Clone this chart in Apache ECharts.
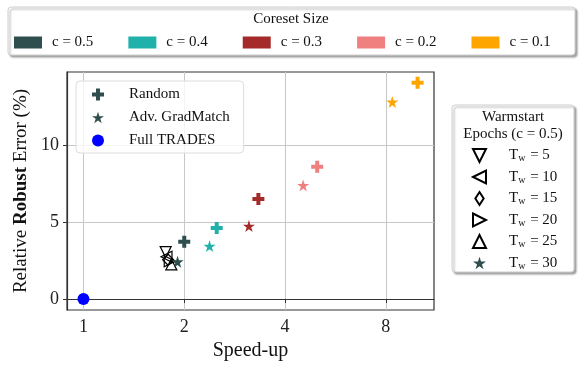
<!DOCTYPE html>
<html><head><meta charset="utf-8">
<script src="https://cdn.jsdelivr.net/npm/echarts@6/dist/echarts.min.js"></script>
<style>html,body{margin:0;padding:0;background:#fff}#c{width:582px;height:370px}</style>
</head><body><div id="c"></div><script>
// ---- data ----
const coresetLabels = ['c = 0.5', 'c = 0.4', 'c = 0.3', 'c = 0.2', 'c = 0.1'];
const coresetColors = ['#2F4F4F', '#20B2AA', '#A52A2A', '#F08080', '#FFA500'];
const randomSpeedup = [2.0, 2.50, 3.33, 4.99, 9.95];
const randomError   = [3.72, 4.61, 6.49, 8.59, 14.05];
const gradSpeedup   = [1.91, 2.38, 3.12, 4.53, 8.36];
const gradError     = [2.42, 3.44, 4.74, 7.38, 12.79];
const fullTradesSpeedup = [1];
const fullTradesError   = [0];
const warmEpochs  = ['5', '10', '15', '20', '25'];
const warmSpeedup = [1.76, 1.77, 1.79, 1.81, 1.83];
const warmError   = [3.05, 2.75, 2.55, 2.45, 2.25];
const xTicks = [1, 2, 4, 8];
const yTicks = [0, 5, 10];

// ---- styles ----
const FONT = 'Liberation Serif';
const CROSS = 'path://M4,0H8V4H12V8H8V12H4V8H0V4H4Z';
const STAR = 'path://M100,0L122.45,69.1L195.1,69.1L136.3,111.8L158.8,180.9L100,138.2L41.2,180.9L63.7,111.8L4.9,69.1L77.55,69.1Z';
const warmSymbols = [
  'path://M0,0L10,0L5,10Z',
  'path://M0,5L10,0L10,10Z',
  'path://M3.2,0L6.4,5L3.2,10L0,5Z',
  'path://M0,0L10,5L0,10Z',
  'path://M5,0L10,10L0,10Z'
];

const series = [];
coresetLabels.forEach((name, i) => {
  series.push({
    type: 'scatter', name, color: coresetColors[i], z: 3,
    symbolSize: 12, itemStyle: { opacity: 1 },
    data: [
      { value: [randomSpeedup[i], randomError[i]], symbol: CROSS, symbolSize: 12 },
      { value: [gradSpeedup[i], gradError[i]], symbol: STAR, symbolSize: 12 }
    ]
  });
});
series.push({ type: 'scatter', name: 'Random', color: '#2F4F4F', symbol: CROSS, itemStyle: { opacity: 1 }, data: [] });
series.push({ type: 'scatter', name: 'Adv. GradMatch', color: '#2F4F4F', symbol: STAR, itemStyle: { opacity: 1 }, data: [] });
series.push({ type: 'scatter', name: 'Full TRADES', color: '#0000FF', symbol: 'circle', symbolSize: 12, itemStyle: { opacity: 1 },
  data: fullTradesSpeedup.map((x, i) => [x, fullTradesError[i]]) });
warmEpochs.forEach((e, i) => {
  series.push({
    type: 'scatter', name: 'Tw' + e, symbol: warmSymbols[i], symbolSize: 11, z: 2,
    itemStyle: { color: 'rgba(255,255,255,0)', borderColor: '#000', borderWidth: 1.2, opacity: 1 },
    data: [[warmSpeedup[i], warmError[i]]]
  });
});
series.push({ type: 'scatter', name: 'Tw30', color: '#2F4F4F', symbol: STAR, itemStyle: { opacity: 1 }, data: [] });

const txt = { fontFamily: FONT, fontSize: 15, color: '#111' };

const option = {
  animation: false,
  textStyle: { fontFamily: FONT },
  grid: { left: 67, top: 72, right: 148, bottom: 60, show: true, borderColor: '#333', borderWidth: 1.2 },
  xAxis: {
    type: 'log', logBase: 2, min: 0.893, max: 11.14,
    name: 'Speed-up', nameLocation: 'middle', nameGap: 30,
    nameTextStyle: { fontFamily: FONT, fontSize: 20, color: '#111' },
    axisLine: { lineStyle: { color: '#333', width: 1.2 } },
    axisTick: { show: true, length: 4, lineStyle: { color: '#333' }, customValues: xTicks },
    axisLabel: { fontFamily: FONT, fontSize: 18, color: '#222', margin: 8, customValues: xTicks, formatter: v => String(Math.round(v)) },
    splitLine: { show: true, lineStyle: { color: '#c8c8c8', width: 1 } },
    minorTick: { show: false }
  },
  yAxis: {
    type: 'value', min: -0.71, max: 14.74,
    name: 'Relative {b|Robust} Error (%)', nameLocation: 'middle', nameGap: 36,
    nameTextStyle: { fontFamily: FONT, fontSize: 19, color: '#111',
      rich: { b: { fontFamily: FONT, fontSize: 19, fontWeight: 'bold', color: '#111' } } },
    axisLine: { show: true, lineStyle: { color: '#333', width: 1.2 } },
    axisTick: { show: true, length: 4, lineStyle: { color: '#333' }, customValues: yTicks },
    axisLabel: { fontFamily: FONT, fontSize: 18, color: '#222', margin: 8, customValues: yTicks },
    splitLine: { show: true, lineStyle: { color: '#c8c8c8', width: 1 } }
  },
  graphic: [
    { type: 'rect', z: -10, shape: { x: 8, y: 7, width: 567, height: 48, r: 3 },
      style: { fill: '#fff', stroke: '#cfcfcf', lineWidth: 1, shadowColor: 'rgba(0,0,0,0.35)', shadowBlur: 2, shadowOffsetX: 2, shadowOffsetY: 2 } },
    { type: 'text', z: 5, x: 291, y: 19, style: { text: 'Coreset Size', fontFamily: FONT, fontSize: 15, fill: '#111', align: 'center', verticalAlign: 'middle' } },
    { type: 'rect', z: -10, shape: { x: 452, y: 105, width: 122, height: 167, r: 3 },
      style: { fill: '#fff', stroke: '#cfcfcf', lineWidth: 1, shadowColor: 'rgba(0,0,0,0.35)', shadowBlur: 2, shadowOffsetX: 2, shadowOffsetY: 2 } },
    { type: 'text', z: 5, x: 513, y: 117, style: { text: 'Warmstart', fontFamily: FONT, fontSize: 15, fill: '#111', align: 'center', verticalAlign: 'middle' } },
    { type: 'text', z: 5, x: 513, y: 134, style: { text: 'Epochs (c = 0.5)', fontFamily: FONT, fontSize: 15, fill: '#111', align: 'center', verticalAlign: 'middle' } }
  ],
  legend: [
    {
      orient: 'horizontal', left: 14, top: 35, itemWidth: 28, itemHeight: 12, itemGap: 35,
      selectedMode: false, padding: 0,
      data: coresetLabels.map(n => ({ name: n, icon: 'rect' })),
      textStyle: Object.assign({ padding: [0, 0, 0, 5] }, txt)
    },
    {
      orient: 'vertical', left: 76, top: 81, itemWidth: 12, itemHeight: 12, itemGap: 8,
      selectedMode: false, padding: [6, 14, 5, 16],
      backgroundColor: 'rgba(255,255,255,0.8)', borderColor: '#dcdcdc', borderWidth: 1, borderRadius: 4,
      data: ['Random', 'Adv. GradMatch', 'Full TRADES'],
      textStyle: Object.assign({ padding: [0, 0, 0, 20] }, txt)
    },
    {
      orient: 'vertical', left: 472, top: 148, itemWidth: 13, itemHeight: 13, itemGap: 6,
      selectedMode: false, padding: 0,
      data: warmEpochs.concat(['30']).map(e => 'Tw' + e),
      formatter: n => 'T{s|w} = ' + n.slice(2),
      textStyle: Object.assign({ padding: [0, 0, 0, 18],
        rich: { s: { fontFamily: FONT, fontSize: 10, color: '#111', padding: [6, 1, 0, 0] } } }, txt)
    }
  ],
  series
};
const chart = echarts.init(document.getElementById('c'), null, { renderer: 'canvas' });
chart.setOption(option);
</script></body></html>
